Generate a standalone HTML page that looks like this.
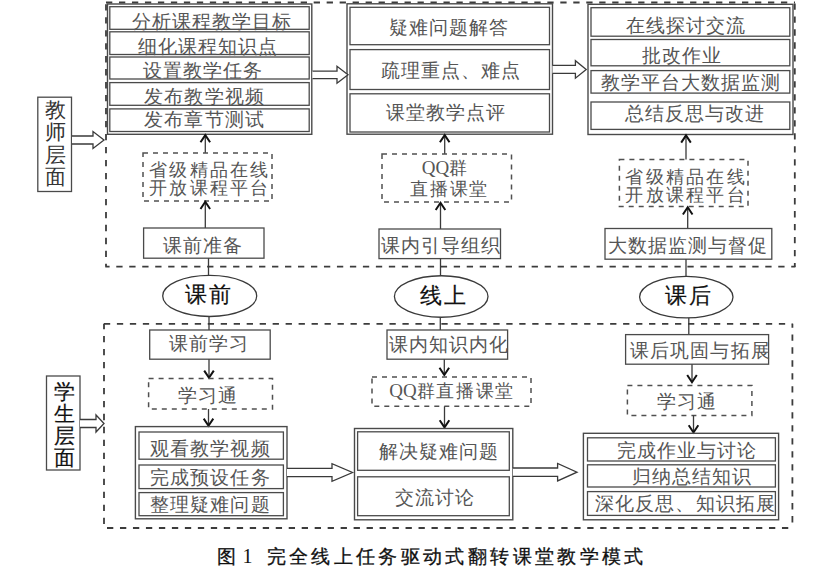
<!DOCTYPE html>
<html><head><meta charset="utf-8"><style>
html,body{margin:0;padding:0;background:#fff;}
body{width:827px;height:584px;position:relative;overflow:hidden;font-family:"Liberation Sans",sans-serif;}
svg{position:absolute;left:0;top:0;}
.t{position:absolute;white-space:nowrap;}
.q{font-family:"Liberation Serif",serif;letter-spacing:0;font-size:19px;}
</style></head><body>
<svg width="827" height="584" viewBox="0 0 827 584">
<line x1="106" y1="2.5" x2="795" y2="2.5" stroke="#3c3c3c" stroke-width="1.8" stroke-dasharray="6.3 6.68" stroke-dashoffset="0.00"/>
<line x1="105.3" y1="266.6" x2="795.4" y2="266.6" stroke="#3c3c3c" stroke-width="1.8" stroke-dasharray="6.3 6.68" stroke-dashoffset="2.00"/>
<line x1="106" y1="2.5" x2="106" y2="266.6" stroke="#3c3c3c" stroke-width="1.8" stroke-dasharray="6.3 6.68" stroke-dashoffset="11.28"/>
<line x1="794.8" y1="2.5" x2="794.8" y2="266.9" stroke="#3c3c3c" stroke-width="1.8" stroke-dasharray="6.3 6.68" stroke-dashoffset="12.08"/>
<line x1="103.8" y1="323.8" x2="792.4" y2="323.8" stroke="#3c3c3c" stroke-width="1.8" stroke-dasharray="6.3 6.68" stroke-dashoffset="12.88"/>
<line x1="104" y1="528" x2="792.4" y2="528" stroke="#3c3c3c" stroke-width="1.8" stroke-dasharray="6.3 6.68" stroke-dashoffset="9.98"/>
<line x1="104" y1="323.8" x2="104" y2="528" stroke="#3c3c3c" stroke-width="1.8" stroke-dasharray="6.3 6.68" stroke-dashoffset="0.80"/>
<line x1="792.4" y1="323.8" x2="792.4" y2="528" stroke="#3c3c3c" stroke-width="1.8" stroke-dasharray="6.3 6.68" stroke-dashoffset="2.40"/>
<rect x="37.8" y="97.2" width="33.7" height="94.3" fill="none" stroke="#4a4a4a" stroke-width="1.3"/>
<polyline points="72,136.0 93,136.0 93,131.5 104,140 93,148.5 93,144.0 72,144.0" fill="#fff" stroke="#3a3a3a" stroke-width="1.3"/>
<rect x="46.5" y="376" width="33.5" height="94.0" fill="none" stroke="#4a4a4a" stroke-width="1.3"/>
<polyline points="80,419.5 96,419.5 96,415.0 104,423.5 96,432.0 96,427.5 80,427.5" fill="#fff" stroke="#3a3a3a" stroke-width="1.3"/>
<rect x="107.5" y="4" width="204.3" height="130.3" fill="none" stroke="#4a4a4a" stroke-width="1.4"/>
<rect x="109.8" y="6.7" width="199.4" height="22.6" fill="none" stroke="#4a4a4a" stroke-width="1.3"/>
<rect x="109.8" y="31.8" width="199.4" height="22.7" fill="none" stroke="#4a4a4a" stroke-width="1.3"/>
<rect x="109.8" y="57" width="199.4" height="22.0" fill="none" stroke="#4a4a4a" stroke-width="1.3"/>
<rect x="109.8" y="82.6" width="199.4" height="22.7" fill="none" stroke="#4a4a4a" stroke-width="1.3"/>
<rect x="109.8" y="108.9" width="199.4" height="22.6" fill="none" stroke="#4a4a4a" stroke-width="1.3"/>
<rect x="347" y="3.8" width="205.5" height="130.4" fill="none" stroke="#4a4a4a" stroke-width="1.4"/>
<rect x="350" y="7.3" width="199.5" height="37.4" fill="none" stroke="#4a4a4a" stroke-width="1.3"/>
<rect x="350" y="49.6" width="199.5" height="39.9" fill="none" stroke="#4a4a4a" stroke-width="1.3"/>
<rect x="350" y="93.8" width="199.5" height="38.2" fill="none" stroke="#4a4a4a" stroke-width="1.3"/>
<polyline points="312.5,71.05 337,71.05 337,66.3 348,74.8 337,83.3 337,78.55 312.5,78.55" fill="#fff" stroke="#3a3a3a" stroke-width="1.3"/>
<polyline points="552.5,65.4 575.4,65.4 575.4,60.650000000000006 586.2,69.4 575.4,78.15 575.4,73.4 552.5,73.4" fill="#fff" stroke="#3a3a3a" stroke-width="1.3"/>
<rect x="588" y="4.3" width="205.0" height="130.2" fill="none" stroke="#4a4a4a" stroke-width="1.4"/>
<rect x="591" y="7.7" width="198.8" height="28.5" fill="none" stroke="#4a4a4a" stroke-width="1.3"/>
<rect x="591" y="39.5" width="198.8" height="26.3" fill="none" stroke="#4a4a4a" stroke-width="1.3"/>
<rect x="591" y="70.6" width="198.8" height="22.5" fill="none" stroke="#4a4a4a" stroke-width="1.3"/>
<rect x="591" y="102" width="198.8" height="27.4" fill="none" stroke="#4a4a4a" stroke-width="1.3"/>
<line x1="205.3" y1="153" x2="205.3" y2="135.3" stroke="#3a3a3a" stroke-width="1.3"/>
<polyline points="200.5,142.3 205.3,135.10000000000002 210.10000000000002,142.3" fill="none" stroke="#111" stroke-width="2"/>
<rect x="143" y="153" width="129.0" height="48.0" fill="none" stroke="#505050" stroke-width="1.5" stroke-dasharray="5 5"/>
<line x1="205.3" y1="228" x2="205.3" y2="202" stroke="#3a3a3a" stroke-width="1.3"/>
<polyline points="200.5,209 205.3,201.8 210.10000000000002,209" fill="none" stroke="#111" stroke-width="2"/>
<rect x="143.6" y="228" width="120.4" height="30.2" fill="none" stroke="#4a4a4a" stroke-width="1.3"/>
<line x1="208.5" y1="258.2" x2="208.5" y2="275" stroke="#3a3a3a" stroke-width="1.3"/>
<line x1="444.7" y1="154" x2="444.7" y2="135.3" stroke="#3a3a3a" stroke-width="1.3"/>
<polyline points="439.9,142.3 444.7,135.10000000000002 449.5,142.3" fill="none" stroke="#111" stroke-width="2"/>
<rect x="382" y="154" width="129.5" height="48.0" fill="none" stroke="#505050" stroke-width="1.5" stroke-dasharray="5 5"/>
<line x1="440.5" y1="229" x2="440.5" y2="203" stroke="#3a3a3a" stroke-width="1.3"/>
<polyline points="435.7,210 440.5,202.8 445.3,210" fill="none" stroke="#111" stroke-width="2"/>
<rect x="379" y="229" width="121.5" height="29.6" fill="none" stroke="#4a4a4a" stroke-width="1.3"/>
<line x1="440.5" y1="258.6" x2="440.5" y2="276" stroke="#3a3a3a" stroke-width="1.3"/>
<line x1="686" y1="159.4" x2="686" y2="135.6" stroke="#3a3a3a" stroke-width="1.3"/>
<polyline points="681.2,142.6 686,135.4 690.8,142.6" fill="none" stroke="#111" stroke-width="2"/>
<rect x="619.4" y="159.4" width="128.6" height="47.1" fill="none" stroke="#505050" stroke-width="1.5" stroke-dasharray="5 5"/>
<line x1="687.7" y1="228.5" x2="687.7" y2="207.5" stroke="#3a3a3a" stroke-width="1.3"/>
<polyline points="682.9000000000001,214.5 687.7,207.3 692.5,214.5" fill="none" stroke="#111" stroke-width="2"/>
<rect x="605" y="228.5" width="166.8" height="30.7" fill="none" stroke="#4a4a4a" stroke-width="1.3"/>
<line x1="686" y1="259.2" x2="686" y2="276" stroke="#3a3a3a" stroke-width="1.3"/>
<ellipse cx="209.7" cy="295.9" rx="47" ry="20.6" fill="#fff" stroke="#3a3a3a" stroke-width="1.3"/>
<ellipse cx="441.2" cy="296.5" rx="46.8" ry="20.75" fill="#fff" stroke="#3a3a3a" stroke-width="1.3"/>
<ellipse cx="686.3" cy="297.1" rx="46.7" ry="20.8" fill="#fff" stroke="#3a3a3a" stroke-width="1.3"/>
<line x1="209" y1="317" x2="209" y2="330" stroke="#3a3a3a" stroke-width="1.3"/>
<line x1="440.3" y1="317.5" x2="440.3" y2="330" stroke="#3a3a3a" stroke-width="1.3"/>
<line x1="688.8" y1="318" x2="688.8" y2="334.5" stroke="#3a3a3a" stroke-width="1.3"/>
<rect x="149.7" y="330" width="120.5" height="29.2" fill="none" stroke="#4a4a4a" stroke-width="1.3"/>
<line x1="209" y1="359.2" x2="209" y2="377.6" stroke="#3a3a3a" stroke-width="1.3"/>
<polyline points="204.2,370.6 209,377.8 213.8,370.6" fill="none" stroke="#111" stroke-width="2"/>
<rect x="148.6" y="378.6" width="123.9" height="30.4" fill="none" stroke="#505050" stroke-width="1.5" stroke-dasharray="5 5"/>
<line x1="208.5" y1="409" x2="208.5" y2="425.6" stroke="#3a3a3a" stroke-width="1.3"/>
<polyline points="203.7,418.6 208.5,425.8 213.3,418.6" fill="none" stroke="#111" stroke-width="2"/>
<rect x="135.4" y="426.6" width="151.6" height="92.2" fill="none" stroke="#4a4a4a" stroke-width="1.4"/>
<rect x="139" y="432" width="144.4" height="27.2" fill="none" stroke="#4a4a4a" stroke-width="1.3"/>
<rect x="139" y="465" width="144.4" height="23.6" fill="none" stroke="#4a4a4a" stroke-width="1.3"/>
<rect x="139" y="492.6" width="144.4" height="23.1" fill="none" stroke="#4a4a4a" stroke-width="1.3"/>
<polyline points="287,468.3 332,468.3 332,463.75 352.5,472.5 332,481.25 332,476.7 287,476.7" fill="#fff" stroke="#3a3a3a" stroke-width="1.3"/>
<rect x="387" y="330" width="120.6" height="29.2" fill="none" stroke="#4a4a4a" stroke-width="1.3"/>
<line x1="444.3" y1="359.2" x2="444.3" y2="374.8" stroke="#3a3a3a" stroke-width="1.3"/>
<polyline points="439.5,367.8 444.3,375.0 449.1,367.8" fill="none" stroke="#111" stroke-width="2"/>
<rect x="372" y="377" width="159.0" height="29.3" fill="none" stroke="#505050" stroke-width="1.5" stroke-dasharray="5 5"/>
<line x1="444.5" y1="406.3" x2="444.5" y2="427.2" stroke="#3a3a3a" stroke-width="1.3"/>
<polyline points="439.7,420.2 444.5,427.4 449.3,420.2" fill="none" stroke="#111" stroke-width="2"/>
<rect x="354.5" y="428.5" width="158.3" height="91.3" fill="none" stroke="#4a4a4a" stroke-width="1.4"/>
<rect x="357.6" y="431.8" width="151.7" height="38.5" fill="none" stroke="#4a4a4a" stroke-width="1.3"/>
<rect x="357.6" y="476.8" width="151.7" height="38.9" fill="none" stroke="#4a4a4a" stroke-width="1.3"/>
<polyline points="512.8,468.0 557.6,468.0 557.6,463.45 577,472.2 557.6,480.95 557.6,476.4 512.8,476.4" fill="#fff" stroke="#3a3a3a" stroke-width="1.3"/>
<rect x="625.6" y="334.6" width="143.0" height="29.6" fill="none" stroke="#4a4a4a" stroke-width="1.3"/>
<line x1="692" y1="364.2" x2="692" y2="382" stroke="#3a3a3a" stroke-width="1.3"/>
<polyline points="687.2,375 692,382.2 696.8,375" fill="none" stroke="#111" stroke-width="2"/>
<rect x="627.4" y="385.4" width="124.5" height="30.0" fill="none" stroke="#505050" stroke-width="1.5" stroke-dasharray="5 5"/>
<line x1="693.5" y1="415.4" x2="693.5" y2="432.3" stroke="#3a3a3a" stroke-width="1.3"/>
<polyline points="688.7,425.3 693.5,432.5 698.3,425.3" fill="none" stroke="#111" stroke-width="2"/>
<rect x="583.4" y="433.3" width="195.2" height="86.5" fill="none" stroke="#4a4a4a" stroke-width="1.4"/>
<rect x="587.5" y="437.8" width="187.9" height="23.2" fill="none" stroke="#4a4a4a" stroke-width="1.3"/>
<rect x="587.5" y="464.8" width="187.9" height="22.2" fill="none" stroke="#4a4a4a" stroke-width="1.3"/>
<rect x="587.5" y="491.6" width="187.9" height="23.8" fill="none" stroke="#4a4a4a" stroke-width="1.3"/>
</svg>
<div class="t" style="left:131.7px;top:11.8px;font-size:19px;line-height:19px;letter-spacing:1.05px;color:#555555;font-weight:400;">分析课程教学目标</div>
<div class="t" style="left:138.0px;top:37.0px;font-size:19px;line-height:19px;letter-spacing:1.05px;color:#555555;font-weight:400;">细化课程知识点</div>
<div class="t" style="left:143.1px;top:61.2px;font-size:19px;line-height:19px;letter-spacing:1.05px;color:#555555;font-weight:400;">设置教学任务</div>
<div class="t" style="left:144.4px;top:86.6px;font-size:19px;line-height:19px;letter-spacing:1.05px;color:#555555;font-weight:400;">发布教学视频</div>
<div class="t" style="left:144.4px;top:109.5px;font-size:19px;line-height:19px;letter-spacing:1.05px;color:#555555;font-weight:400;">发布章节测试</div>
<div class="t" style="left:388.8px;top:18.4px;font-size:19px;line-height:19px;letter-spacing:1.05px;color:#555555;font-weight:400;">疑难问题解答</div>
<div class="t" style="left:380.5px;top:60.8px;font-size:19px;line-height:19px;letter-spacing:1.05px;color:#555555;font-weight:400;">疏理重点、难点</div>
<div class="t" style="left:386.1px;top:103.0px;font-size:19px;line-height:19px;letter-spacing:1.05px;color:#555555;font-weight:400;">课堂教学点评</div>
<div class="t" style="left:625.8px;top:15.6px;font-size:19px;line-height:19px;letter-spacing:1.05px;color:#555555;font-weight:400;">在线探讨交流</div>
<div class="t" style="left:642.3px;top:46.0px;font-size:19px;line-height:19px;letter-spacing:1.05px;color:#555555;font-weight:400;">批改作业</div>
<div class="t" style="left:601.0px;top:73.0px;font-size:19px;line-height:19px;letter-spacing:1.05px;color:#555555;font-weight:400;">教学平台大数据监测</div>
<div class="t" style="left:624.5px;top:104.2px;font-size:19px;line-height:19px;letter-spacing:1.05px;color:#555555;font-weight:400;">总结反思与改进</div>
<div class="t" style="left:149.1px;top:160.6px;font-size:18.3px;line-height:18.3px;letter-spacing:2.26px;color:#555555;font-weight:400;">省级精品在线</div>
<div class="t" style="left:149.1px;top:179.4px;font-size:18.3px;line-height:18.3px;letter-spacing:2.26px;color:#555555;font-weight:400;">开放课程平台</div>
<div class="t" style="left:421.8px;top:159.1px;font-size:18.3px;line-height:18.3px;letter-spacing:1.40px;color:#555555;font-weight:400;"><span class="q">QQ</span>群</div>
<div class="t" style="left:409.8px;top:180.4px;font-size:18.3px;line-height:18.3px;letter-spacing:1.90px;color:#555555;font-weight:400;">直播课堂</div>
<div class="t" style="left:625.3px;top:167.6px;font-size:18.3px;line-height:18.3px;letter-spacing:2.30px;color:#555555;font-weight:400;">省级精品在线</div>
<div class="t" style="left:625.3px;top:186.3px;font-size:18.3px;line-height:18.3px;letter-spacing:2.30px;color:#555555;font-weight:400;">开放课程平台</div>
<div class="t" style="left:162.7px;top:235.9px;font-size:19px;line-height:19px;letter-spacing:1.05px;color:#555555;font-weight:400;">课前准备</div>
<div class="t" style="left:380.8px;top:235.9px;font-size:19px;line-height:19px;letter-spacing:1.05px;color:#555555;font-weight:400;">课内引导组织</div>
<div class="t" style="left:607.8px;top:236.1px;font-size:19px;line-height:19px;letter-spacing:1.05px;color:#555555;font-weight:400;">大数据监测与督促</div>
<div class="t" style="left:184.8px;top:283.7px;font-size:22px;line-height:22px;letter-spacing:2.20px;color:#111;font-weight:400;-webkit-text-stroke:0.2px #111;">课前</div>
<div class="t" style="left:419.8px;top:284.5px;font-size:22px;line-height:22px;letter-spacing:2.40px;color:#111;font-weight:400;-webkit-text-stroke:0.2px #111;">线上</div>
<div class="t" style="left:665.1px;top:284.7px;font-size:22px;line-height:22px;letter-spacing:2.20px;color:#111;font-weight:400;-webkit-text-stroke:0.2px #111;">课后</div>
<div class="t" style="left:168.8px;top:334.4px;font-size:19px;line-height:19px;letter-spacing:1.05px;color:#555555;font-weight:400;">课前学习</div>
<div class="t" style="left:178.2px;top:386.1px;font-size:19px;line-height:19px;letter-spacing:1.05px;color:#555555;font-weight:400;">学习通</div>
<div class="t" style="left:150.3px;top:439.1px;font-size:19px;line-height:19px;letter-spacing:1.05px;color:#555555;font-weight:400;">观看教学视频</div>
<div class="t" style="left:150.3px;top:468.1px;font-size:19px;line-height:19px;letter-spacing:1.05px;color:#555555;font-weight:400;">完成预设任务</div>
<div class="t" style="left:150.3px;top:494.9px;font-size:19px;line-height:19px;letter-spacing:1.05px;color:#555555;font-weight:400;">整理疑难问题</div>
<div class="t" style="left:388.8px;top:335.1px;font-size:19px;line-height:19px;letter-spacing:1.05px;color:#555555;font-weight:400;">课内知识内化</div>
<div class="t" style="left:389.3px;top:381.9px;font-size:18.3px;line-height:18.3px;letter-spacing:1.60px;color:#555555;font-weight:400;"><span class="q">QQ</span>群直播课堂</div>
<div class="t" style="left:378.7px;top:441.6px;font-size:19px;line-height:19px;letter-spacing:1.05px;color:#555555;font-weight:400;">解决疑难问题</div>
<div class="t" style="left:394.6px;top:488.1px;font-size:19px;line-height:19px;letter-spacing:1.05px;color:#555555;font-weight:400;">交流讨论</div>
<div class="t" style="left:630.3px;top:340.8px;font-size:19px;line-height:19px;letter-spacing:1.05px;color:#555555;font-weight:400;">课后巩固与拓展</div>
<div class="t" style="left:656.8px;top:391.6px;font-size:19px;line-height:19px;letter-spacing:1.05px;color:#555555;font-weight:400;">学习通</div>
<div class="t" style="left:617.1px;top:440.9px;font-size:19px;line-height:19px;letter-spacing:1.05px;color:#555555;font-weight:400;">完成作业与讨论</div>
<div class="t" style="left:631.6px;top:467.4px;font-size:19px;line-height:19px;letter-spacing:1.05px;color:#555555;font-weight:400;">归纳总结知识</div>
<div class="t" style="left:595.3px;top:494.1px;font-size:19px;line-height:19px;letter-spacing:1.05px;color:#555555;font-weight:400;">深化反思、知识拓展</div>
<div class="t" style="left:45.0px;top:98.5px;font-size:21px;line-height:22.5px;width:21px;white-space:normal;color:#333;font-weight:400;">教师层面</div>
<div class="t" style="left:54.3px;top:380.6px;font-size:21px;line-height:22.1px;width:21px;white-space:normal;color:#111;font-weight:400;-webkit-text-stroke:0.2px #111;">学生层面</div>
<div class="t" style="left:216.5px;top:547px;font-size:19px;line-height:19px;color:#111;font-family:'Liberation Serif',serif;-webkit-text-stroke:0.3px #111">图<span style="margin-left:7px;font-size:20px;-webkit-text-stroke:0">1</span><span style="margin-left:14px;letter-spacing:3.37px">完全线上任务驱动式翻转课堂教学模式</span></div>
</body></html>
